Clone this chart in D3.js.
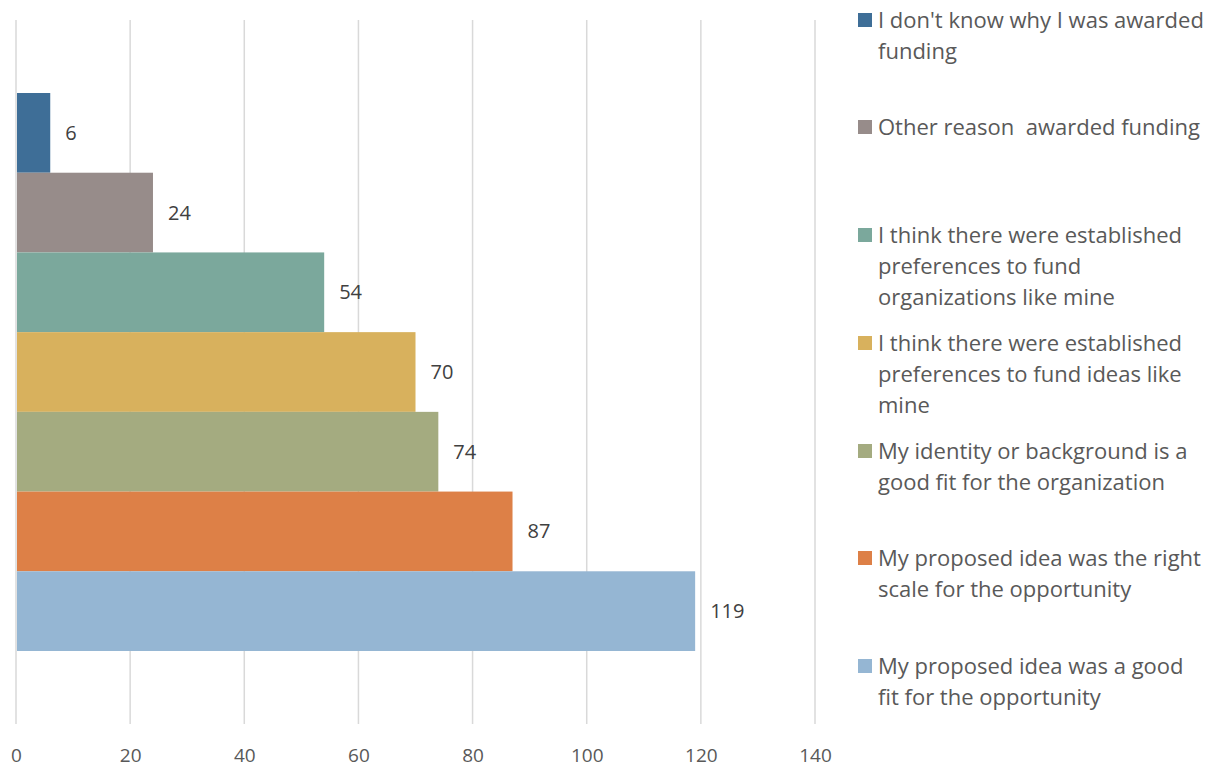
<!DOCTYPE html>
<html><head><meta charset="utf-8">
<script src="https://cdn.jsdelivr.net/npm/d3@7"></script>
<style>body{margin:0;background:#fff}svg{display:block}text{white-space:pre}</style>
</head><body>
<svg id="c" width="1220" height="768"></svg>
<script>
const series = [
  "I don't know why I was awarded funding",
  "Other reason  awarded funding",
  "I think there were established preferences to fund organizations like mine",
  "I think there were established preferences to fund ideas like mine",
  "My identity or background is a good fit for the organization",
  "My proposed idea was the right scale for the opportunity",
  "My proposed idea was a good fit for the opportunity"
];
const values = [6, 24, 54, 70, 74, 87, 119];
const colors = ["#3e6e97", "#978c8a", "#7ba89c", "#d8b15d", "#a4ab80", "#dd8047", "#95b6d3"];
const legendLines = [
  ["I don't know why I was awarded", "funding"],
  ["Other reason  awarded funding"],
  ["I think there were established", "preferences to fund", "organizations like mine"],
  ["I think there were established", "preferences to fund ideas like", "mine"],
  ["My identity or background is a", "good fit for the organization"],
  ["My proposed idea was the right", "scale for the opportunity"],
  ["My proposed idea was a good", "fit for the opportunity"]
];
const xTicks = [0, 20, 40, 60, 80, 100, 120, 140];

const svg = d3.select("#c");
const font = "'Open Sans', sans-serif";
const x = d3.scaleLinear().domain([0, 140]).range([16, 815]);
const y = d3.scaleBand().domain(series).range([93, 651]).paddingInner(0).paddingOuter(0);

// gridlines
svg.append("g").selectAll("line").data(xTicks).join("line")
  .attr("x1", d => x(d)).attr("x2", d => x(d))
  .attr("y1", 20).attr("y2", 724)
  .attr("stroke", "#d9d9d9").attr("stroke-width", 1.5);

// axis labels
const ax = svg.append("g").attr("transform", "translate(0,724)")
  .call(d3.axisBottom(x).tickValues(xTicks).tickSize(0).tickPadding(0));
ax.select(".domain").remove();
ax.selectAll("text").attr("dy", null).attr("y", 38)
  .attr("font-family", font).attr("font-size", 19).attr("fill", "#595959");

// bars
svg.append("g").selectAll("rect").data(series).join("rect")
  .attr("x", x(0) + 1).attr("y", d => y(d))
  .attr("width", (d, i) => x(values[i]) - x(0) - 1)
  .attr("height", y.bandwidth())
  .attr("fill", (d, i) => colors[i]);

// value labels
svg.append("g").selectAll("text").data(series).join("text")
  .attr("x", (d, i) => x(values[i]) + 15)
  .attr("y", d => y(d) + y.bandwidth() / 2)
  .attr("dy", "0.35em")
  .attr("font-family", font).attr("font-size", 20).attr("fill", "#404040")
  .text((d, i) => values[i]);

// legend
const legendY = [20, 127, 235, 343, 451, 558, 666];
const lg = svg.append("g");
series.forEach((s, i) => {
  const g = lg.append("g").attr("transform", `translate(0,${legendY[i]})`);
  g.append("rect").attr("x", 858).attr("y", -7).attr("width", 14).attr("height", 14).attr("fill", colors[i]);
  legendLines[i].forEach((t, j) => {
    g.append("text").attr("x", 878).attr("y", j * 31).attr("dy", "0.35em")
      .attr("font-family", font).attr("font-size", 22).attr("fill", "#595959").text(t);
  });
});
</script>
</body></html>
